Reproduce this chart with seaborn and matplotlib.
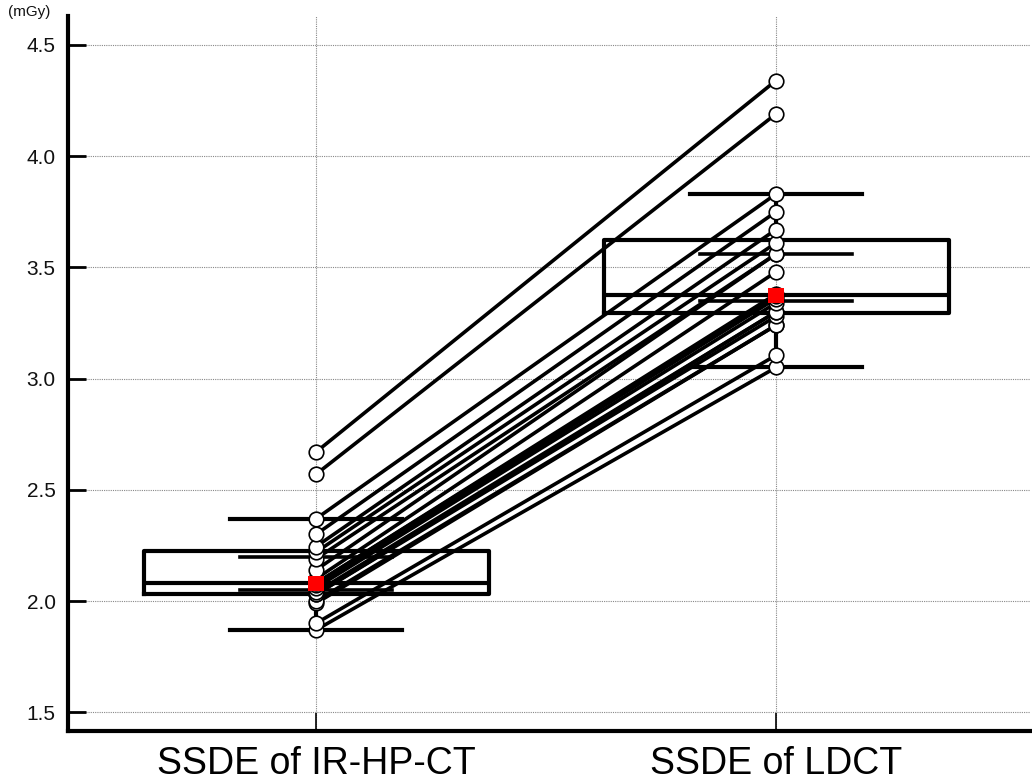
import numpy as np
import pandas as pd
import matplotlib
matplotlib.use("Agg")
import matplotlib.pyplot as plt
import seaborn as sns

# paired SSDE values per patient (mGy)
ssde_ir_hp_ct = [1.87, 1.90, 1.99, 2.00, 2.03, 2.03, 2.04, 2.06, 2.07, 2.08,
                 2.08, 2.10, 2.14, 2.19, 2.22, 2.245, 2.30, 2.37, 2.57, 2.67]
ssde_ldct = [3.05, 3.105, 3.24, 3.24, 3.28, 3.30, 3.30, 3.34, 3.36, 3.37,
             3.38, 3.48, 3.56, 3.56, 3.61, 3.67, 3.75, 3.83, 4.19, 4.34]
categories = ["SSDE of IR-HP-CT", "SSDE of LDCT"]

# short horizontal bars drawn over each box (upper / lower)
bar_high = [2.20, 3.56]
bar_low = [2.05, 3.35]

yticks = [1.5, 2.0, 2.5, 3.0, 3.5, 4.0, 4.5]

n = len(ssde_ir_hp_ct)
df = pd.DataFrame({
    "patient": list(range(n)) * 2,
    "group": [categories[0]] * n + [categories[1]] * n,
    "ssde": ssde_ir_hp_ct + ssde_ldct,
})
medians = df.groupby("group", sort=False)["ssde"].median().reset_index()

fig = plt.figure(figsize=(10.32, 7.82), dpi=100)
ax = fig.add_axes([0.066, 0.065, 0.932, 0.9145])

sns.boxplot(data=df, x="group", y="ssde", order=categories, width=0.75,
            fill=False, color="black", linewidth=3, showfliers=False,
            whis=1.5, ax=ax, zorder=2)
for line in ax.lines:
    line.set_color("black")

sns.lineplot(data=df, x="group", y="ssde", units="patient", estimator=None,
             color="black", linewidth=2.6, ax=ax, zorder=3, legend=False)

for i in range(len(categories)):
    ax.plot([i - 0.165, i + 0.165], [bar_high[i]] * 2, color="black", lw=2.6, zorder=2.5)
    ax.plot([i - 0.165, i + 0.165], [bar_low[i]] * 2, color="black", lw=2.6, zorder=2.5)

sns.scatterplot(data=df, x="group", y="ssde", marker="o", s=110,
                facecolor="white", edgecolor="black", linewidth=1.2,
                ax=ax, zorder=4, legend=False)
sns.scatterplot(data=medians, x="group", y="ssde", marker="s", s=120,
                color="#ff0000", edgecolor="none", ax=ax, zorder=5, legend=False)

ax.set_xlim(-0.539, 1.552)
ax.set_ylim(1.415, 4.63)
ax.set_yticks(yticks)
ax.set_yticklabels([f"{v:.1f}" for v in yticks])
ax.set_xlabel("")
ax.set_ylabel("")

ax.grid(True, color="#888888", linestyle=(0, (1, 1)), linewidth=0.8)
ax.set_axisbelow(True)
for s in ["top", "right"]:
    ax.spines[s].set_visible(False)
for s in ["left", "bottom"]:
    ax.spines[s].set_linewidth(3)
    ax.spines[s].set_color("black")

ax.tick_params(axis="y", direction="in", length=13, width=2, labelsize=15,
               pad=9, labelcolor="#111111")
ax.tick_params(axis="x", direction="in", length=13, width=1.2, pad=11)
for lab in ax.get_xticklabels():
    lab.set_family(["Liberation Sans Narrow", "Liberation Sans", "DejaVu Sans"])
    lab.set_fontsize(27)
for lab in ax.get_yticklabels():
    lab.set_family(["Liberation Sans", "DejaVu Sans"])

fig.text(0.008, 0.985, "(mGy)", fontsize=11, family=["Liberation Sans", "DejaVu Sans"],
         va="center", ha="left", color="#111111")

fig.savefig("out.png", dpi=100)
